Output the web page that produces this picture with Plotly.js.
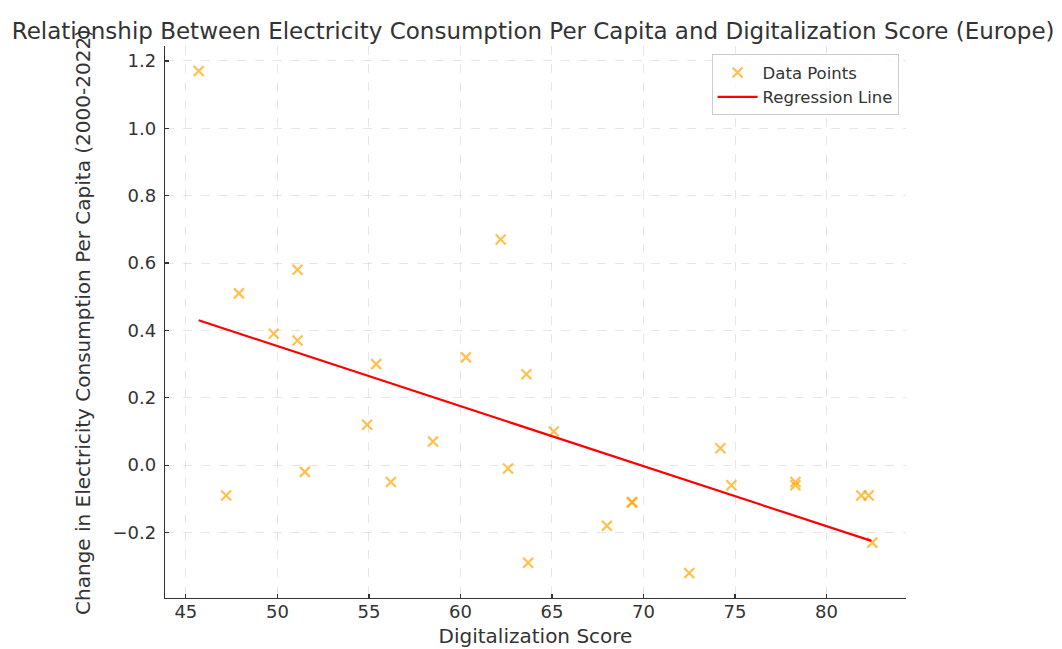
<!DOCTYPE html>
<html>
<head>
<meta charset="utf-8">
<script src="https://cdn.plot.ly/plotly-3.0.1.min.js"></script>
<style>html,body{margin:0;padding:0;background:#fff;}#chart{width:1062px;height:649px;}</style>
</head>
<body>
<div id="chart"></div>
<script>
const digitalScore = [45.7, 47.9, 51.1, 62.2, 49.8, 51.1, 55.4, 60.3, 63.6, 54.9, 58.5, 51.5, 56.2, 62.6, 47.2, 63.7, 65.1, 74.2, 74.8, 78.3, 78.3, 81.9, 82.3, 82.5, 69.4, 69.35, 68.0, 72.5];
const consumptionChange = [1.17, 0.51, 0.58, 0.67, 0.39, 0.37, 0.30, 0.32, 0.27, 0.12, 0.07, -0.02, -0.05, -0.01, -0.09, -0.29, 0.10, 0.05, -0.06, -0.05, -0.06, -0.09, -0.09, -0.23, -0.11, -0.11, -0.18, -0.32];
const regressionX = [45.7, 82.45];
const regressionY = [0.43, -0.225];
const xTicks = [45, 50, 55, 60, 65, 70, 75, 80];
const yTicks = [-0.2, 0.0, 0.2, 0.4, 0.6, 0.8, 1.0, 1.2];

const font = "DejaVu Sans, sans-serif";
const traces = [
  {
    x: digitalScore, y: consumptionChange, mode: 'markers', type: 'scatter',
    name: 'Data Points',
    marker: {symbol: 'x-thin', size: 10, line: {width: 2.2, color: 'rgba(255,165,0,0.7)'}, color: 'rgba(255,165,0,0.7)'}
  },
  {
    x: regressionX, y: regressionY, mode: 'lines', type: 'scatter',
    name: 'Regression Line',
    line: {color: '#ff0000', width: 2.2}
  }
];
const layout = {
  width: 1062, height: 649,
  margin: {l: 165, r: 156, t: 46, b: 51},
  paper_bgcolor: '#fff', plot_bgcolor: '#fff',
  font: {family: font, color: '#333', size: 18},
  title: {text: 'Relationship Between Electricity Consumption Per Capita and Digitalization Score (Europe)', font: {family: font, size: 23, color: '#333'}, x: 0.502, xanchor: 'center', y: 0.953, yanchor: 'middle'},
  xaxis: {
    range: [43.86, 84.34], tickvals: xTicks, ticktext: xTicks.map(String),
    showline: true, linecolor: '#333', linewidth: 1.3, mirror: false,
    ticks: 'inside', ticklen: 4, tickwidth: 1.2, tickcolor: '#333', ticklabelstandoff: -3,
    showgrid: true, gridcolor: 'rgba(200,200,200,0.45)', griddash: 'dash', gridwidth: 1,
    zeroline: false, tickfont: {size: 18, color: '#333'},
    title: {text: 'Digitalization Score', font: {size: 20, color: '#333'}, standoff: 8}
  },
  yaxis: {
    range: [-0.3945, 1.2445], tickvals: yTicks, tickformat: '.1f',
    showline: true, linecolor: '#333', linewidth: 1.3, mirror: false,
    ticks: 'inside', ticklen: 4, tickwidth: 1.2, tickcolor: '#333', ticklabelstandoff: 4,
    showgrid: true, gridcolor: 'rgba(200,200,200,0.45)', griddash: 'dash', gridwidth: 1,
    zeroline: false, tickfont: {size: 18, color: '#333'},
    title: {text: 'Change in Electricity Consumption Per Capita (2000-2022)', font: {size: 20, color: '#333'}, standoff: 16}
  },
  showlegend: true,
  legend: {x: 0.99, xanchor: 'right', y: 0.985, yanchor: 'top', bgcolor: 'rgba(255,255,255,0.8)', bordercolor: '#ccc', borderwidth: 1, font: {size: 16.5, color: '#333'}, itemwidth: 40, tracegroupgap: 2}
};
Plotly.newPlot('chart', traces, layout, {displayModeBar: false, staticPlot: true});
</script>
</body>
</html>
